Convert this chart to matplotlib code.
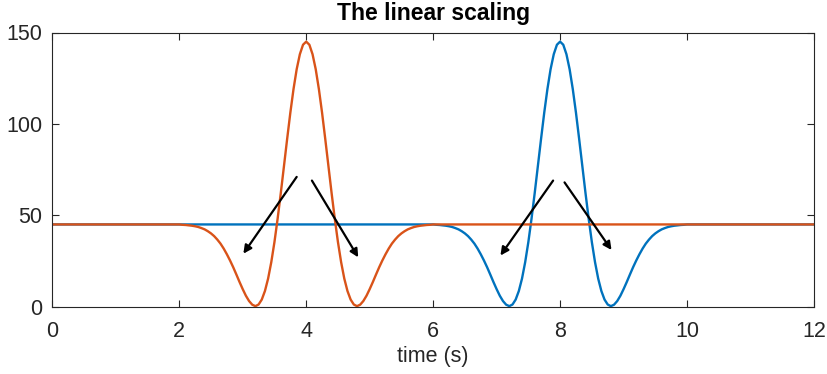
import matplotlib.pyplot as plt
import numpy as np

plt.rcParams['font.family'] = ['Liberation Sans', 'DejaVu Sans']

# pulse profile, sampled every 0.05 s around its centre (s, value)
offsets = np.round(np.arange(-2.0, 2.0001, 0.05), 2)
half = [145.0, 143.3, 138.1, 129.9, 119.0, 106.1, 91.8, 77.0, 62.2, 48.2,
        35.4, 24.4, 15.4, 8.6, 3.9, 1.2, 0.3, 1.1, 3.1, 6.0,
        9.6, 13.5, 17.6, 21.6, 25.3, 28.7, 31.8, 34.5, 36.7, 38.6,
        40.1, 41.3, 42.3, 43.0, 43.6, 44.0, 44.3, 44.5, 44.7, 44.8, 45.0]
pulse = half[:0:-1] + half

baseline = 45
t_start, t_end = 0, 12
center_blue = 8
center_orange = 4

# arrows: (x_from, y_from, x_to, y_to)
arrows = [(3.85, 71, 3.01, 29),
          (4.09, 69, 4.82, 27),
          (7.89, 69, 7.06, 28),
          (8.07, 68, 8.81, 31)]

blue = '#0072BD'
orange = '#D95319'

t_blue = np.concatenate([[t_start], center_blue + offsets, [t_end]])
y_blue = np.concatenate([[baseline], pulse, [baseline]])
t_orange = np.concatenate([[t_start], center_orange + offsets, [t_end]])
y_orange = np.concatenate([[baseline], pulse, [baseline]])

fig = plt.figure(figsize=(8.27, 3.74), dpi=100)
ax = fig.add_axes([52.3 / 827, 1 - 306.7 / 374, (814 - 52.3) / 827, (306.7 - 32.5) / 374])

ax.plot(t_blue, y_blue, color=blue, lw=1.7)
ax.plot(t_orange, y_orange, color=orange, lw=1.7)

for x0, y0, x1, y1 in arrows:
    ax.annotate('', xy=(x1, y1), xytext=(x0, y0),
                arrowprops=dict(arrowstyle='-|>', color='black', lw=1.6,
                                mutation_scale=12, shrinkA=0, shrinkB=0))

ax.set_xlim(0, 12)
ax.set_ylim(0, 150)
ax.set_xticks(range(0, 13, 2))
ax.set_yticks([0, 50, 100, 150])
ax.tick_params(direction='in', top=True, right=True, length=5, width=0.8,
               labelsize=15.5, colors='#262626')
ax.tick_params(axis='x', pad=10)
ax.tick_params(axis='y', pad=7)
for s in ax.spines.values():
    s.set_color('#262626')
    s.set_linewidth(0.8)

ax.set_xlabel('time (s)', fontsize=15.5, color='#262626', labelpad=3)
ax.set_title('The linear scaling', fontsize=16.5, fontweight='bold', pad=9)

fig.savefig('out.png', dpi=100)
